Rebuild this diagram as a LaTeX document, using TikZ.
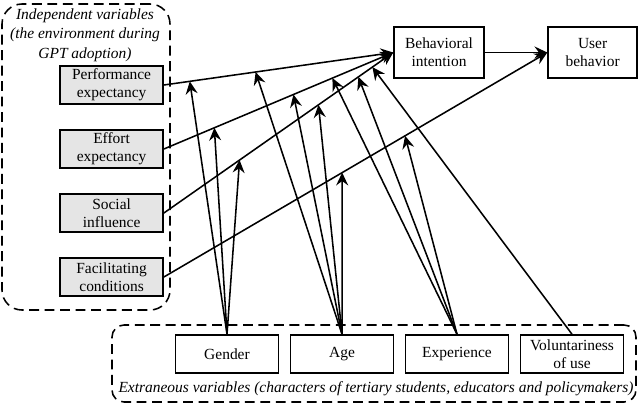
\documentclass[tikz,border=0pt]{standalone}
\usepackage{fontspec}
\setmainfont{Liberation Serif}
\usetikzlibrary{arrows.meta}
\usetikzlibrary{positioning}

\begin{document}
\begin{tikzpicture}[node distance=1.6cm,on grid,line width=1.1pt,
                >={Stealth[length=3.2mm,width=3mm,inset=1.1mm]},
                font=\fontsize{11}{12.8}\selectfont,
                box/.style={draw,minimum width=2.575cm,minimum height=0.95cm,inner sep=0pt,align=center},
                indep/.style={box,fill=gray!20},
                frame/.style={draw,dash pattern=on 7pt off 4pt,inner sep=0pt},
                note/.style={align=center,font=\fontsize{11}{13.8}\selectfont\itshape}]
                \useasboundingbox (0,0) rectangle (16,-10.1);
                % dashed groups
                \node[frame,rounded corners=0.5cm,minimum width=4.2cm,minimum height=7.65cm] (iv) at (2.15,-3.925) {};
                \node[frame,rounded corners=0.3cm,minimum width=13.1cm,minimum height=1.925cm] (ev) at (9.35,-9.0875) {};
                \node[note] (iv_t) at (2.125,-0.875) {Independent variables\\(the environment during\\GPT adoption)};
                \node[note] (ev_t) at (9.4,-9.725) {Extraneous variables (characters of tertiary students, educators and policymakers)};
                % nodes
                \node[indep] (pe) at (2.79,-2.125) {Performance\\expectancy};
                \node[indep] [below=of pe] (ee) {Effort\\expectancy};
                \node[indep] [below=of ee] (si) {Social\\influence};
                \node[indep] [below=of si] (fc) {Facilitating\\conditions};
                \node[box,minimum width=2.25cm,minimum height=1.275cm] (bi) at (10.975,-1.3125) {Behavioral\\intention};
                \node[box,minimum width=2.225cm,minimum height=1.275cm] [right=3.84cm of bi] (ub) {User\\behavior};
                \node[box] (gen) at (5.675,-8.85) {Gender};
                \node[box] [right=2.875cm of gen] (age) {Age};
                \node[box] [right=2.875cm of age] (exp) {Experience};
                \node[box] [right=2.875cm of exp] (vol) {Voluntariness\\of use};
                % main paths
                \draw[->] (pe.east) -- coordinate[pos=0.113] (pe_g) coordinate[pos=0.40] (pe_a) (bi.west);
                \draw[->] (ee.east) -- coordinate[pos=0.22] (ee_g) coordinate[pos=0.565] (ee_a)
                    coordinate[pos=0.735] (ee_e) (bi.west);
                \draw[->] (si.east) -- coordinate[pos=0.33] (si_g) coordinate[pos=0.674] (si_a)
                    coordinate[pos=0.848] (si_e) coordinate[pos=0.909] (si_v) (bi.west);
                \draw[->] (fc.east) -- coordinate[pos=0.465] (fc_a) coordinate[pos=0.629] (fc_e) (ub.west);
                \draw[->] (bi) -- (ub);
                % moderators
                \foreach \t in {pe_g,ee_g,si_g} \draw[->] (gen.north) -- (\t);
                \foreach \t in {pe_a,ee_a,si_a,fc_a} \draw[->] (age.north) -- (\t);
                \foreach \t in {ee_e,si_e,fc_e} \draw[->] (exp.north) -- (\t);
                \draw[->] (vol.north) -- (si_v);
            \end{tikzpicture}
\end{document}
